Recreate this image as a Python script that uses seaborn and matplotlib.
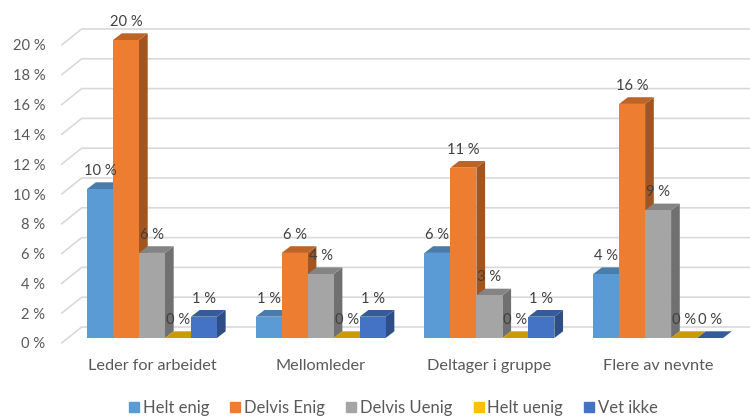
import numpy as np
import pandas as pd
import matplotlib
matplotlib.use("Agg")
import matplotlib.pyplot as plt
import seaborn as sns
from matplotlib.patches import Polygon
from matplotlib.transforms import ScaledTranslation, IdentityTransform
from matplotlib.lines import Line2D
import matplotlib.colors as mcolors

# Share of respondents (n = 70) per role and answer, in percent
categories = ["Leder for arbeidet", "Mellomleder", "Deltager i gruppe", "Flere av nevnte"]
series = ["Helt enig", "Delvis Enig", "Delvis Uenig", "Helt uenig", "Vet ikke"]
helt_enig = [10.0, 1.43, 5.71, 4.29]
delvis_enig = [20.0, 5.71, 11.43, 15.71]
delvis_uenig = [5.71, 4.29, 2.86, 8.57]
helt_uenig = [0.0, 0.0, 0.0, 0.0]
vet_ikke = [1.43, 1.43, 1.43, 0.0]
y_ticks = [0, 2, 4, 6, 8, 10, 12, 14, 16, 18, 20]

colors = ["#5B9BD5", "#ED7D31", "#A5A5A5", "#FFC000", "#4472C4"]

values = [helt_enig, delvis_enig, delvis_uenig, helt_uenig, vet_ikke]
df = pd.DataFrame(
    [(c, s, v[i]) for s, v in zip(series, values) for i, c in enumerate(categories)],
    columns=["Rolle", "Svar", "Andel"],
)

sns.set_theme(style="white")
plt.rcParams["font.family"] = ["Lato", "DejaVu Sans"]

W, H, DPI = 750, 418, 100
fig = plt.figure(figsize=(W / DPI, H / DPI), dpi=DPI)

# axes placed so the bar plane spans the plotting region
px_per_cat = 168.7
px_per_pct = 14.9
x_left_px = 152 - px_per_cat / 2
y_zero_px = 338
ymax = 22.0
ax_w = 4 * px_per_cat
ax_h = ymax * px_per_pct
ax = fig.add_axes([x_left_px / W, (H - y_zero_px) / H, ax_w / W, ax_h / H])

sns.barplot(data=df, x="Rolle", y="Andel", hue="Svar", hue_order=series,
            palette=colors, width=0.77, gap=0, saturation=1, ax=ax,
            legend=False, linewidth=0, errorbar=None)
ax.set_xlim(-0.5, 3.5)
ax.set_ylim(0, ymax)
ax.patch.set_alpha(0)

for s in ax.spines.values():
    s.set_visible(False)
ax.set_xlabel("")
ax.set_ylabel("")

# depth offsets (pixels)
bar_dx, bar_dy = 8.7, 6.7          # bar depth
front_dx, front_dy = -6.0, -5.0    # floor front edge relative to bar plane
back_dx, back_dy = 14.0, 11.0      # back wall relative to bar plane

fig.canvas.draw()
to_disp = ax.transData.transform
ident = IdentityTransform()

# back wall gridlines with floor diagonals
grid_c = "#D9D9D9"
for t in y_ticks:
    x0, y0 = to_disp((-0.5, t))
    fx, fy = x0 + front_dx, y0 + front_dy
    bx, by = x0 + back_dx, y0 + back_dy
    ax.add_line(Line2D([fx, bx, W], [fy, by, by], color=grid_c, lw=1.2,
                       transform=ident, zorder=0.5, clip_on=False))

ax.set_yticks(y_ticks)
ax.set_yticklabels([f"{t} %" for t in y_ticks], color="#595959", fontsize=10.6)
ax.tick_params(axis="y", length=0, pad=16)
shift = ScaledTranslation(0, front_dy / DPI, fig.dpi_scale_trans)
for lab in ax.get_yticklabels():
    lab.set_transform(lab.get_transform() + shift)

ax.set_xticks(range(4))
ax.set_xticklabels(categories, color="#595959", fontsize=11.7)
ax.tick_params(axis="x", length=0, pad=15)

def shade(c, f):
    r, g, b = mcolors.to_rgb(c)
    return (r * f, g * f, b * f)

# 3D faces for each bar, drawn series by series so later fronts cover earlier sides
for k, container in enumerate(ax.containers):
    base_z = 3 + k * 0.1
    for patch in container:
        patch.set_zorder(base_z + 0.05)
        x = patch.get_x()
        w = patch.get_width()
        h = patch.get_height()
        (xl, yb) = to_disp((x, 0))
        (xr, yt) = to_disp((x + w, h))
        top = [(xl, yt), (xr, yt), (xr + bar_dx, yt + bar_dy), (xl + bar_dx, yt + bar_dy)]
        side = [(xr, yb), (xr, yt), (xr + bar_dx, yt + bar_dy), (xr + bar_dx, yb + bar_dy)]
        fc = patch.get_facecolor()
        if h > 0:
            ax.add_patch(Polygon(side, closed=True, facecolor=shade(fc, 0.68), edgecolor="none",
                                 transform=ident, zorder=base_z, clip_on=False))
        ax.add_patch(Polygon(top, closed=True, facecolor=shade(fc, 0.8), edgecolor="none",
                             transform=ident, zorder=base_z + 0.02, clip_on=False))

# data labels
for container in ax.containers:
    for patch in container:
        h = patch.get_height()
        cx = patch.get_x() + patch.get_width() / 2
        ax.annotate(f"{h:.0f} %", (cx, h), xytext=(0, 8), textcoords="offset points",
                    ha="center", va="bottom", fontsize=10.6, color="#404040", zorder=10)

# legend
handles = [Line2D([], [], marker="s", linestyle="none", markersize=6.5,
                  markerfacecolor=c, markeredgecolor=c) for c in colors]
fig.legend(handles, series, loc="center", bbox_to_anchor=(0.525, (H - 408) / H),
           ncol=5, frameon=False, fontsize=12, labelcolor="#595959",
           handletextpad=0.25, columnspacing=1.3, handlelength=0.55)

fig.savefig("out.png", dpi=DPI)
